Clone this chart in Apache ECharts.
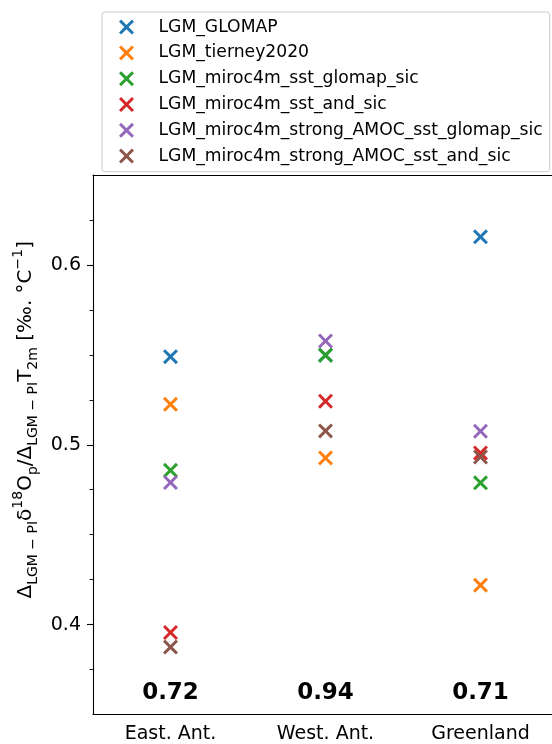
<!DOCTYPE html>
<html>
<head>
<meta charset="utf-8">
<script src="https://cdn.jsdelivr.net/npm/echarts@6/dist/echarts.min.js"></script>
<style>html,body{margin:0;padding:0;background:#fff;overflow:hidden;width:552px;height:744px;}#c{width:566px;height:744px;}</style>
</head>
<body>
<div id="c"></div>
<script>
const categories = ['East. Ant.', 'West. Ant.', 'Greenland'];
const seriesNames = [
  'LGM_GLOMAP',
  'LGM_tierney2020',
  'LGM_miroc4m_sst_glomap_sic',
  'LGM_miroc4m_sst_and_sic',
  'LGM_miroc4m_strong_AMOC_sst_glomap_sic',
  'LGM_miroc4m_strong_AMOC_sst_and_sic'
];
const glomap = [0.549, 0.5498, 0.6156];
const tierney2020 = [0.5225, 0.4927, 0.4219];
const sstGlomapSic = [0.4858, 0.5498, 0.4788];
const sstAndSic = [0.3956, 0.5242, 0.4954];
const amocSstGlomapSic = [0.4790, 0.5577, 0.5075];
const amocSstAndSic = [0.3875, 0.5077, 0.4932];
const corrLabels = ['0.72', '0.94', '0.71'];
const majorTicks = [0.4, 0.5, 0.6];
const minorTicks = [0.375, 0.425, 0.45, 0.475, 0.525, 0.55, 0.575, 0.625];

const seriesValues = [glomap, tierney2020, sstGlomapSic, sstAndSic, amocSstGlomapSic, amocSstAndSic];
const colors = ['#1f77b4', '#ff7f0e', '#2ca02c', '#d62728', '#9467bd', '#8c564b'];
const X_PATH = 'path://M0,1.4L1.4,0L5,3.6L8.6,0L10,1.4L6.4,5L10,8.6L8.6,10L5,6.4L1.4,10L0,8.6L3.6,5Z';
const FONT = 'DejaVu Sans';

const series = seriesNames.map((name, i) => ({
  name: name,
  type: 'scatter',
  symbol: X_PATH,
  symbolSize: 15,
  itemStyle: { color: colors[i], opacity: 1 },
  emphasis: { disabled: true },
  data: seriesValues[i].map((v, j) => [categories[j], v])
}));

series.push({
  name: 'corr',
  type: 'scatter',
  symbolSize: 0,
  silent: true,
  itemStyle: { color: '#000', opacity: 1 },
  data: corrLabels.map((t, j) => ({ value: [categories[j], 0.362], label: { formatter: t } })),
  label: {
    show: true, position: 'inside', color: '#000', opacity: 1,
    textBorderWidth: 0, textBorderColor: 'transparent',
    fontFamily: FONT, fontSize: 23, fontWeight: 'bold'
  }
});

const yName = '{n|Δ}{sub|LGM − PI}{n|δ}{sup|18}{n|O}{sub|p}{n|/Δ}{sub|LGM − PI}{n|T}{sub|2m}{n| [‰. °C}{sup|−1}{n|]}';

const chart = echarts.init(document.getElementById('c'), null, { renderer: 'canvas' });
chart.setOption({
  animation: false,
  backgroundColor: '#fff',
  color: colors,
  grid: { left: 93, top: 175, width: 465, height: 539.5, containLabel: false, outerBoundsMode: 'none' },
  legend: {
    data: seriesNames,
    orient: 'vertical',
    left: 102,
    top: 12,
    padding: [6.5, 7, 7, 17],
    itemGap: 8.6,
    itemWidth: 24,
    itemHeight: 15,
    borderColor: '#cccccc',
    borderWidth: 1,
    borderRadius: 3,
    textStyle: { fontFamily: FONT, fontSize: 17.2, color: '#000', lineHeight: 17.2, padding: [0, 0, 0, 15] }
  },
  xAxis: [{
    type: 'category',
    data: categories,
    position: 'bottom',
    boundaryGap: true,
    axisLine: { lineStyle: { color: '#000', width: 1.1 } },
    axisTick: { alignWithLabel: true, length: 6, lineStyle: { color: '#000', width: 1.1 } },
    axisLabel: { color: '#000', fontFamily: FONT, fontSize: 19, margin: 10 },
    splitLine: { show: false }
  }, {
    type: 'category',
    data: categories,
    position: 'top',
    axisLine: { lineStyle: { color: '#000', width: 1.1 } },
    axisTick: { show: false },
    axisLabel: { show: false },
    splitLine: { show: false }
  }],
  yAxis: [{
    type: 'value',
    min: 0.35,
    max: 0.65,
    interval: 0.05,
    position: 'left',
    axisLine: { show: true, lineStyle: { color: '#000', width: 1.1 } },
    axisTick: { show: true, length: 6, customValues: majorTicks, lineStyle: { color: '#000', width: 1.1 } },
    axisLabel: { color: '#000', fontFamily: FONT, fontSize: 19, margin: 12, customValues: majorTicks },
    splitLine: { show: false },
    name: yName,
    nameLocation: 'middle',
    nameRotate: 90,
    nameGap: 52,
    nameTextStyle: {
      color: '#000', fontFamily: FONT,
      padding: [0, 0, 0, 50],
      rich: {
        n: { fontFamily: FONT, fontSize: 20, color: '#000', lineHeight: 29, verticalAlign: 'middle' },
        sub: { fontFamily: FONT, fontSize: 14, color: '#000', lineHeight: 14, verticalAlign: 'bottom' },
        sup: { fontFamily: FONT, fontSize: 14, color: '#000', lineHeight: 14, verticalAlign: 'top' }
      }
    }
  }, {
    type: 'value',
    min: 0.35,
    max: 0.65,
    interval: 0.05,
    position: 'left',
    offset: 0,
    axisLine: { show: false },
    axisTick: { show: true, length: 3.5, customValues: minorTicks, lineStyle: { color: '#000', width: 0.9 } },
    axisLabel: { show: false },
    splitLine: { show: false }
  }],
  series: series
});
</script>
</body>
</html>
